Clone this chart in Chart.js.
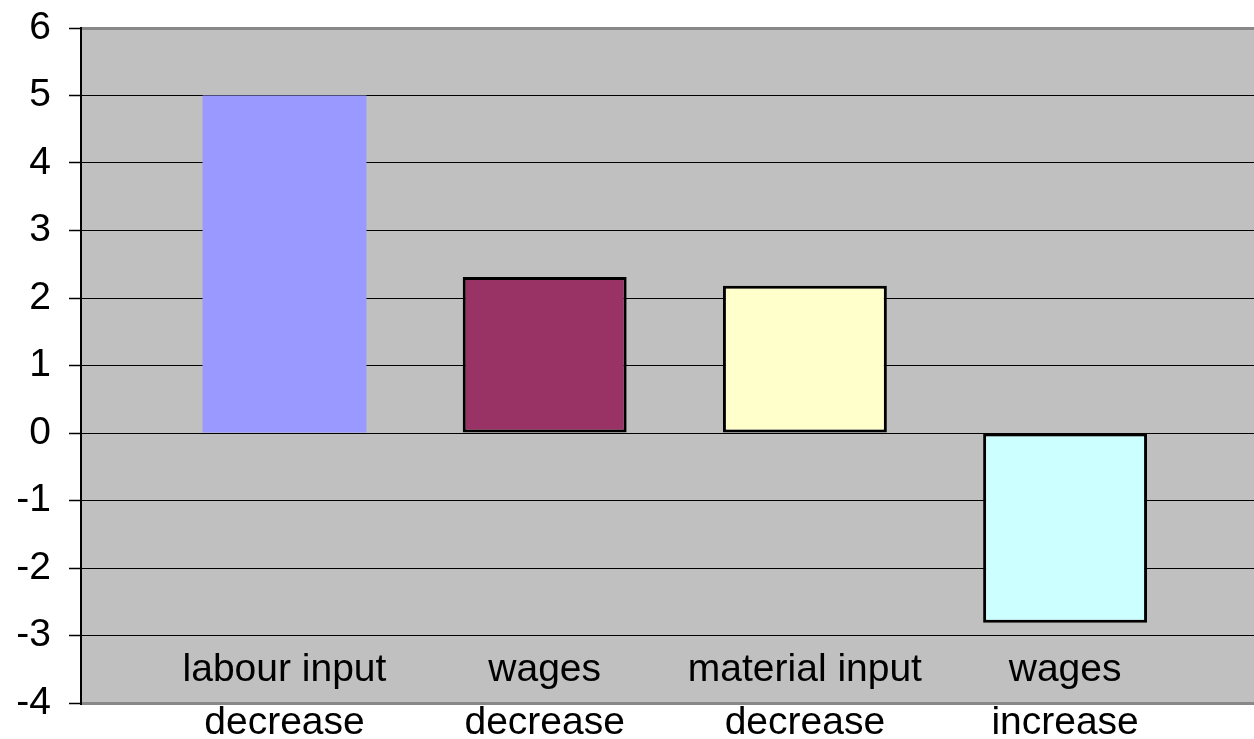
<!DOCTYPE html>
<html>
<head>
<meta charset="utf-8">
<script src="https://cdn.jsdelivr.net/npm/chart.js@4/dist/chart.umd.min.js"></script>
<style>
    body { margin: 0; background: #ffffff; }
    #box { width: 1254px; height: 739px; }
</style>
</head>
<body>
<div id="box"><canvas id="myChart"></canvas></div>
<script>
//  Данные
const categories   = [["labour input", "decrease"], ["wages", "decrease"], ["material input", "decrease"], ["wages", "increase"]];
const positions    = [1, 2, 3, 4];
const values       = [5, 2.31, 2.18, -2.81];
const bar_colours  = ['#9999FF', '#993366', '#FFFFCC', '#CCFFFF'];
const bar_borders  = [0, 3, 3, 3];

const font_main = { family: "'Liberation Sans', Arial, sans-serif", size: 39 };

//  Серый фон области графика
const plotBackground = {
    id: 'plotBackground',
    beforeDraw(chart) {
        const a = chart.chartArea;
        const ctx = chart.ctx;
        ctx.save();
        ctx.fillStyle = '#C0C0C0';
        ctx.fillRect(a.left, a.top, a.right - a.left, a.bottom - a.top);
        ctx.restore();
    }
};

//  Граница области: верх и низ серые
function isEdge(ctx){
    return ctx.tick && (ctx.tick.value === 6 || ctx.tick.value === -4);
}

//  setup
const data = {
    datasets: [{
        data: positions.map((x, i) => ({ x: x, y: values[i] })),
        backgroundColor: bar_colours,
        borderColor: '#000000',
        borderWidth: bar_borders,
        borderSkipped: false,
        categoryPercentage: 1,
        barPercentage: 0.63
    }]
};

//  config
const config = {
    type: 'bar',
    data: data,
    plugins: [plotBackground],
    options: {
        responsive: true,
        maintainAspectRatio: false,
        animation: false,
        layout: { padding: { top: 28, right: 0, bottom: 0, left: 0 } },
        plugins: {
            legend: { display: false },
            tooltip: { enabled: false }
        },
        scales: {
            x: {
                type: 'linear',
                offset: false,
                min: 0.218,
                max: 4.726,
                grid: { display: false },
                border: { display: false },
                afterBuildTicks: (scale) => { scale.ticks = positions.map(v => ({ value: v })); },
                afterFit: (scale) => { scale.height = 36; },
                ticks: {
                    mirror: true,
                    color: '#000000',
                    padding: 6.5,
                    maxRotation: 0,
                    autoSkip: false,
                    font: Object.assign({ lineHeight: 1.36 }, font_main),
                    callback: (value, index) => categories[index]
                }
            },
            y: {
                min: -4,
                max: 6,
                afterFit: (scale) => {
                    scale.width = 81;
                    scale.paddingTop = 0;
                    scale.paddingBottom = 0;
                },
                ticks: {
                    stepSize: 1,
                    color: '#000000',
                    padding: 18,
                    font: font_main
                },
                grid: {
                    color: (ctx) => isEdge(ctx) ? '#888888' : '#000000',
                    lineWidth: (ctx) => isEdge(ctx) ? 3 : 1,
                    tickColor: '#000000',
                    tickWidth: 1.5,
                    tickLength: 12
                },
                border: { display: true, color: '#000000', width: 2 }
            }
        }
    }
};

//  render / init block
let myChart = new Chart(document.getElementById('myChart'), config);
</script>
</body>
</html>
